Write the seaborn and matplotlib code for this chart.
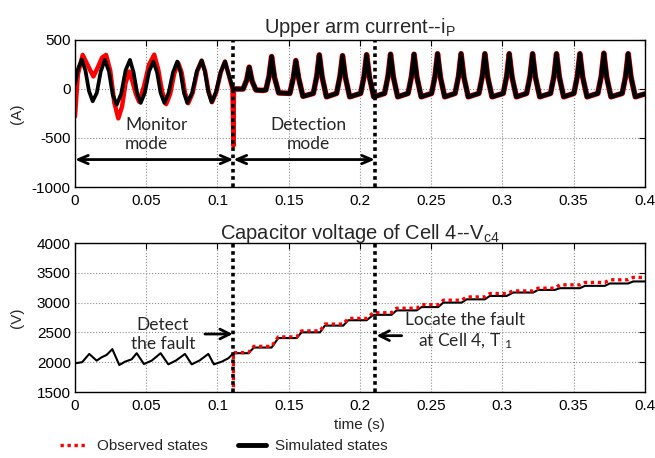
import pandas as pd
import seaborn as sns
from matplotlib import pyplot as plt
from matplotlib.lines import Line2D

# Upper arm current i_P, monitor mode (time in s, current in A)
t_mon_sim = [0.0000, 0.0020, 0.0047, 0.0073, 0.0098, 0.0124, 0.0153, 0.0181, 0.0210, 0.0238,
             0.0265, 0.0293, 0.0324, 0.0355, 0.0386, 0.0411, 0.0436, 0.0461, 0.0490, 0.0520,
             0.0550, 0.0576, 0.0601, 0.0627, 0.0657, 0.0688, 0.0718, 0.0741, 0.0765, 0.0788,
             0.0822, 0.0855, 0.0889, 0.0912, 0.0936, 0.0959, 0.0990, 0.1022, 0.1053, 0.1080,
             0.1110]
i_mon_sim = [50, 200, 300, 190, -20, -125, -40, 180, 297, 180,
             -60, -160, -50, 190, 297, 170, -40, -142, -40, 180,
             280, 170, -40, -142, -40, 170, 280, 170, -40, -142,
             -40, 180, 290, 180, -30, -135, -30, 170, 280, 140,
             0]

t_mon_obs = [0.0000, 0.0020, 0.0054, 0.0090, 0.0129, 0.0160, 0.0190, 0.0218, 0.0247, 0.0276,
             0.0304, 0.0330, 0.0355, 0.0380, 0.0403, 0.0427, 0.0450, 0.0485, 0.0520, 0.0556,
             0.0584, 0.0612, 0.0640, 0.0668, 0.0697, 0.0725, 0.0748, 0.0772, 0.0795, 0.0826,
             0.0858, 0.0889, 0.0913, 0.0938, 0.0962, 0.0992, 0.1023, 0.1053, 0.1080, 0.1105,
             0.1112, 0.1116]
i_mon_obs = [-280, 150, 348, 240, 128, 220, 320, 348, 190, -140,
             -300, -180, 60, 179, 80, -50, -130, 30, 250, 350,
             200, -30, -155, -50, 160, 265, 170, -40, -145, -40,
             180, 290, 180, -30, -135, -30, 170, 280, 140, 0,
             -580, 0]

# detection mode onwards: observed and simulated lie on top of each other
t_det = [0.1116, 0.1180, 0.1205, 0.1223, 0.1243, 0.1270, 0.1320, 0.1340, 0.1362, 0.1380, 0.1400, 0.1430,
         0.1508, 0.1532, 0.1550, 0.1570, 0.1600,
         0.1673, 0.1697, 0.1715, 0.1735, 0.1765,
         0.1836, 0.1860, 0.1878, 0.1898, 0.1928,
         0.2005, 0.2029, 0.2047, 0.2067, 0.2097,
         0.2173, 0.2197, 0.2215, 0.2235, 0.2265,
         0.2338, 0.2362, 0.2380, 0.2400, 0.2430,
         0.2503, 0.2527, 0.2545, 0.2565, 0.2595,
         0.2668, 0.2692, 0.2710, 0.2730, 0.2760,
         0.2835, 0.2859, 0.2877, 0.2897, 0.2927,
         0.3006, 0.3030, 0.3048, 0.3068, 0.3098,
         0.3170, 0.3194, 0.3212, 0.3232, 0.3262,
         0.3338, 0.3362, 0.3380, 0.3400, 0.3430,
         0.3502, 0.3526, 0.3544, 0.3564, 0.3594,
         0.3670, 0.3694, 0.3712, 0.3732, 0.3762,
         0.3841, 0.3865, 0.3883, 0.3903, 0.3933,
         0.4000]
i_det = [0, 0, 90, 223, 80, -10, -15, -10, 130, 331, 120, -40,
         -45, 110, 290, 110, -75,
         -45, 130, 348, 120, -80,
         -45, 130, 340, 120, -80,
         -45, 130, 350, 120, -80,
         -45, 130, 355, 120, -80,
         -45, 130, 355, 120, -80,
         -45, 130, 360, 120, -80,
         -45, 130, 360, 120, -80,
         -45, 130, 360, 120, -80,
         -45, 130, 360, 120, -80,
         -45, 130, 360, 120, -80,
         -45, 130, 360, 120, -80,
         -45, 130, 360, 120, -80,
         -45, 130, 365, 120, -80,
         -45, 130, 360, 120, -80,
         -50]

# Capacitor voltage of cell 4 (V)
t_vc_mon = [0.0000, 0.0050, 0.0100, 0.0152, 0.0187, 0.0222, 0.0262, 0.0311, 0.0351, 0.0398,
            0.0433, 0.0484, 0.0538, 0.0601, 0.0655, 0.0710, 0.0772, 0.0819, 0.0875, 0.0936,
            0.0975, 0.1030, 0.1076, 0.1112]
v_vc_mon = [1982, 2000, 2139, 2026, 2083, 2122, 2219, 1953, 2009, 2049,
            2151, 1970, 2026, 2151, 1964, 2030, 2139, 1964, 2030, 2139,
            1964, 2009, 2066, 2151]

step_start = [0.1216, 0.1380, 0.1556, 0.1720, 0.1883, 0.2047, 0.2222, 0.2398, 0.2550,
              0.2714, 0.2877, 0.3030, 0.3216, 0.3368, 0.3544, 0.3719, 0.3883]
step_end = [0.1256, 0.1427, 0.1590, 0.1754, 0.1918, 0.2094, 0.2257, 0.2433, 0.2585,
            0.2749, 0.2912, 0.3076, 0.3251, 0.3404, 0.3579, 0.3754, 0.3918]
v_sim_levels = [2151, 2246, 2405, 2501, 2614, 2704, 2795, 2869, 2925,
                3000, 3055, 3112, 3169, 3213, 3242, 3281, 3321, 3355]
v_obs_levels = [2160, 2265, 2425, 2525, 2640, 2735, 2830, 2905, 2965,
                3040, 3095, 3152, 3196, 3242, 3298, 3338, 3383, 3423]
v_obs_start = 1580

t_fault = 0.1112    # switch to detection mode
t_locate = 0.2105   # fault located

x_ticks = [0, 0.05, 0.1, 0.15, 0.2, 0.25, 0.3, 0.35, 0.4]
x_tick_labels = ['0', '0.05', '0.1', '0.15', '0.2', '0.25', '0.3', '0.35', '0.4']
i_ticks = [-1000, -500, 0, 500]
v_ticks = [1500, 2000, 2500, 3000, 3500, 4000]


def stairs(levels):
    t, v = [t_fault], [levels[0]]
    for a, b, lo, hi in zip(step_start, step_end, levels[:-1], levels[1:]):
        t += [a, b]
        v += [lo, hi]
    t.append(0.4)
    v.append(levels[-1])
    return t, v


sns.set_style('white')
plt.rcParams['font.family'] = ['Liberation Sans', 'DejaVu Sans']
plt.rcParams['mathtext.default'] = 'regular'
plt.rcParams['axes.unicode_minus'] = False

fig = plt.figure(figsize=(6.55, 4.58), dpi=100)
ax1 = fig.add_axes([0.1145, 0.5917, 0.870, 0.321])
ax2 = fig.add_axes([0.1145, 0.1441, 0.870, 0.3253])

RED = '#ff0000'
ann_font = dict(family='Lato', fontsize=12.5)

# ---- upper arm current
sns.lineplot(x=t_mon_obs, y=i_mon_obs, ax=ax1, color=RED, lw=3.2, sort=False, estimator=None)
sns.lineplot(x=t_det, y=i_det, ax=ax1, color=RED, lw=4.0, sort=False, estimator=None)
sns.lineplot(x=t_mon_sim, y=i_mon_sim, ax=ax1, color='black', lw=2.7, sort=False, estimator=None)
sns.lineplot(x=[t_mon_sim[-1]] + t_det, y=[i_mon_sim[-1]] + i_det, ax=ax1, color='black',
             lw=3.2, sort=False, estimator=None)

ax1.set_ylim(-1000, 500)
ax1.set_yticks(i_ticks)
ax1.set_title('Upper arm current--i$_P$', fontsize=14.5, pad=5)
ax1.set_ylabel('(A)', fontsize=11)

ax1.annotate('', xy=(t_fault, -720), xytext=(0, -720),
             arrowprops=dict(arrowstyle='<->, head_length=0.7, head_width=0.3', lw=2,
                             color='black', shrinkA=0, shrinkB=0))
ax1.annotate('', xy=(t_locate, -720), xytext=(t_fault, -720),
             arrowprops=dict(arrowstyle='<->, head_length=0.7, head_width=0.3', lw=2,
                             color='black', shrinkA=0, shrinkB=0))
ax1.text(0.0351, -465, 'Monitor\nmode', ha='left', va='center', multialignment='left', **ann_font)
ax1.text(0.164, -465, 'Detection\nmode', ha='center', va='center', multialignment='center', **ann_font)

# ---- capacitor voltage
t_sim, v_sim = stairs(v_sim_levels)
t_obs, v_obs = stairs(v_obs_levels)
sns.lineplot(x=t_vc_mon + t_sim, y=v_vc_mon + v_sim, ax=ax2, color='black', lw=1.5,
             sort=False, estimator=None)
sns.lineplot(x=[t_fault] + t_obs, y=[v_obs_start] + v_obs, ax=ax2, color=RED, lw=2.4,
             ls=(0, (1, 1.1)), sort=False, estimator=None)

ax2.set_ylim(1500, 4000)
ax2.set_yticks(v_ticks)
ax2.set_title('Capacitor voltage of Cell 4--V$_{c4}$', fontsize=14.5, pad=3)
ax2.set_ylabel('(V)', fontsize=11)
ax2.set_xlabel('time (s)', fontsize=11)
ax2.xaxis.set_label_coords(0.5, -0.175)

ax2.annotate('', xy=(0.1107, 2473), xytext=(0.0912, 2473),
             arrowprops=dict(arrowstyle='->, head_length=0.7, head_width=0.35', lw=2,
                             color='black', shrinkA=0, shrinkB=0))
ax2.annotate('', xy=(0.2117, 2445), xytext=(0.2293, 2445),
             arrowprops=dict(arrowstyle='->, head_length=0.7, head_width=0.35', lw=2,
                             color='black', shrinkA=0, shrinkB=0))
ax2.text(0.0618, 2462, 'Detect\nthe fault', ha='center', va='center', multialignment='center', **ann_font)
ax2.text(0.2737, 2513, 'Locate the fault\nat Cell 4, T $_1$', ha='center', va='center',
         multialignment='center', **ann_font)

for ax in (ax1, ax2):
    ax.set_xlim(0, 0.4)
    ax.set_xticks(x_ticks)
    ax.set_xticklabels(x_tick_labels)
    ax.grid(True, ls=':', color='#8c8c8c', lw=0.8)
    ax.tick_params(direction='in', top=True, right=True, length=4, width=0.8,
                   labelsize=11, colors='black')
    ax.tick_params(axis='x', pad=5)
    ax.tick_params(axis='y', pad=3)
    ax.yaxis.set_label_coords(-0.09, 0.5)
    for s in ax.spines.values():
        s.set_color('black')
        s.set_linewidth(1.0)
    for t in (t_fault, t_locate):
        ax.axvline(t, color='black', lw=2.6, ls=(0, (1, 1)), zorder=5)

handles = [Line2D([], [], color=RED, lw=2.4, ls=(0, (1, 1.1))),
           Line2D([], [], color='black', lw=3.5)]
fig.legend(handles, ['Observed states', 'Simulated states'], loc='center',
           bbox_to_anchor=(224 / 655, 1 - 446 / 458), ncol=2, frameon=False, fontsize=11,
           handlelength=1.8, handletextpad=0.6, columnspacing=2.0)

fig.savefig('out.png', dpi=100)
